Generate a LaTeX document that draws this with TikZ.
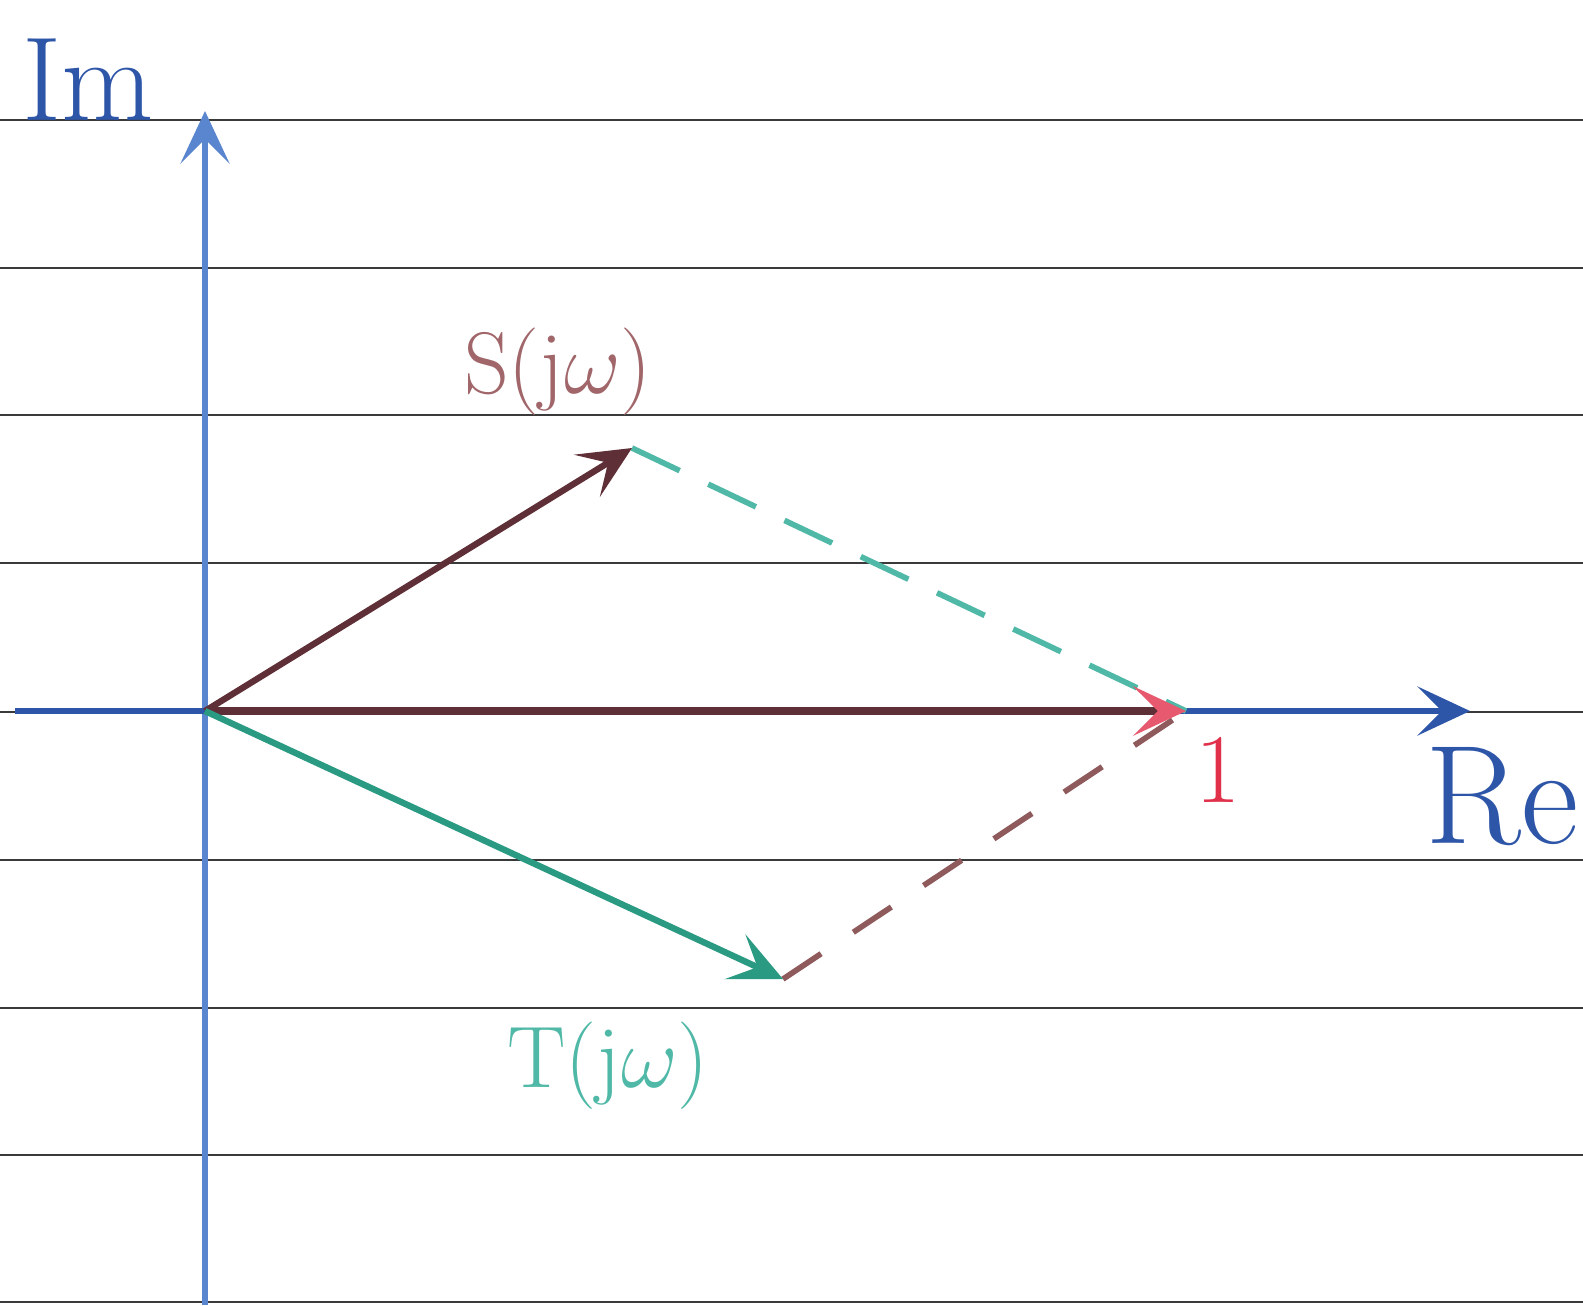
\documentclass[tikz,border=0pt]{standalone}
\usepackage{amsmath}
\usetikzlibrary{arrows.meta,positioning}
\definecolor{pvaxis}{HTML}{5A86D0}
\definecolor{phaxis}{HTML}{2E56A8}
\definecolor{pmaroon}{HTML}{5E2F36}
\definecolor{pspink}{HTML}{A0666A}
\definecolor{pteal}{HTML}{2A9A82}
\definecolor{plteal}{HTML}{4FB8A6}
\definecolor{pdmar}{HTML}{8E5A5C}
\definecolor{pred}{HTML}{E0304A}
\definecolor{prule}{HTML}{3A3A3A}
\tikzset{
  rule/.style={draw=prule,line width=0.7pt},
  axisarr/.style={-{Stealth[length=15pt,width=14pt,inset=7pt]},line width=1.5pt},
  vecarr/.style={-{Stealth[length=15pt,width=14pt,inset=7pt]},line width=1.8pt},
  dashln/.style={line width=1.6pt,dash pattern=on 15pt off 9pt},
  lbl/.style={font=\fontsize{34}{40}\selectfont,inner sep=0pt},
}
\begin{document}
\begin{tikzpicture}[x=0.01cm,y=-0.01cm]
  \useasboundingbox (0,0) rectangle (1583,1305);
  \fill[white] (0,0) rectangle (1583,1305);
  % ruled paper
  \foreach \ry in {120,268,415,563,712,860,1008,1155,1302}
    \draw[rule] (0,\ry) -- (1583,\ry);
  % points
  \coordinate (O) at (205,711);
  \coordinate (ImTop) at (205,111);
  \coordinate (ImBot) at (205,1305);
  \coordinate (ReL) at (15,711);
  \coordinate (ReR) at (1470,711);
  \coordinate (S) at (632,448);
  \coordinate (T) at (783,979);
  \coordinate (one) at (1186,711);
  % axes
  \draw[axisarr,draw=pvaxis] (ImBot) -- (ImTop);
  \draw[axisarr,draw=phaxis] (ReL) -- (ReR);
  % dashed sides
  \draw[dashln,draw=plteal] (S) -- (one);
  \draw[dashln,draw=pdmar,dash pattern=on 13pt off 11pt] (T) -- (one);
  % vectors
  \draw[draw=pmaroon,line width=2.4pt,-{Stealth[length=15pt,width=14pt,inset=7pt,color=pred!80]}] (O) -- (one);
  \draw[vecarr,draw=pmaroon] (O) -- (S);
  \draw[vecarr,draw=pteal] (O) -- (T);
  % labels
  \node[lbl,text=phaxis] (im) at (88,80) {Im};
  \node[lbl,text=phaxis,anchor=west,font=\fontsize{40}{46}\selectfont] (re) at (1425,797) {Re};
  \node[lbl,text=pspink] (slbl) at (558,372) {$\mathrm{S}(\mathrm{j}\omega)$};
  \node[lbl,text=plteal,font=\fontsize{38}{44}\selectfont] (tlbl) at (608,1066) {$\mathrm{T}(\mathrm{j}\omega)$};
  \node[lbl,text=pred,font=\fontsize{28}{34}\selectfont] (onelbl) at (1218,770) {1};
\end{tikzpicture}
\end{document}
